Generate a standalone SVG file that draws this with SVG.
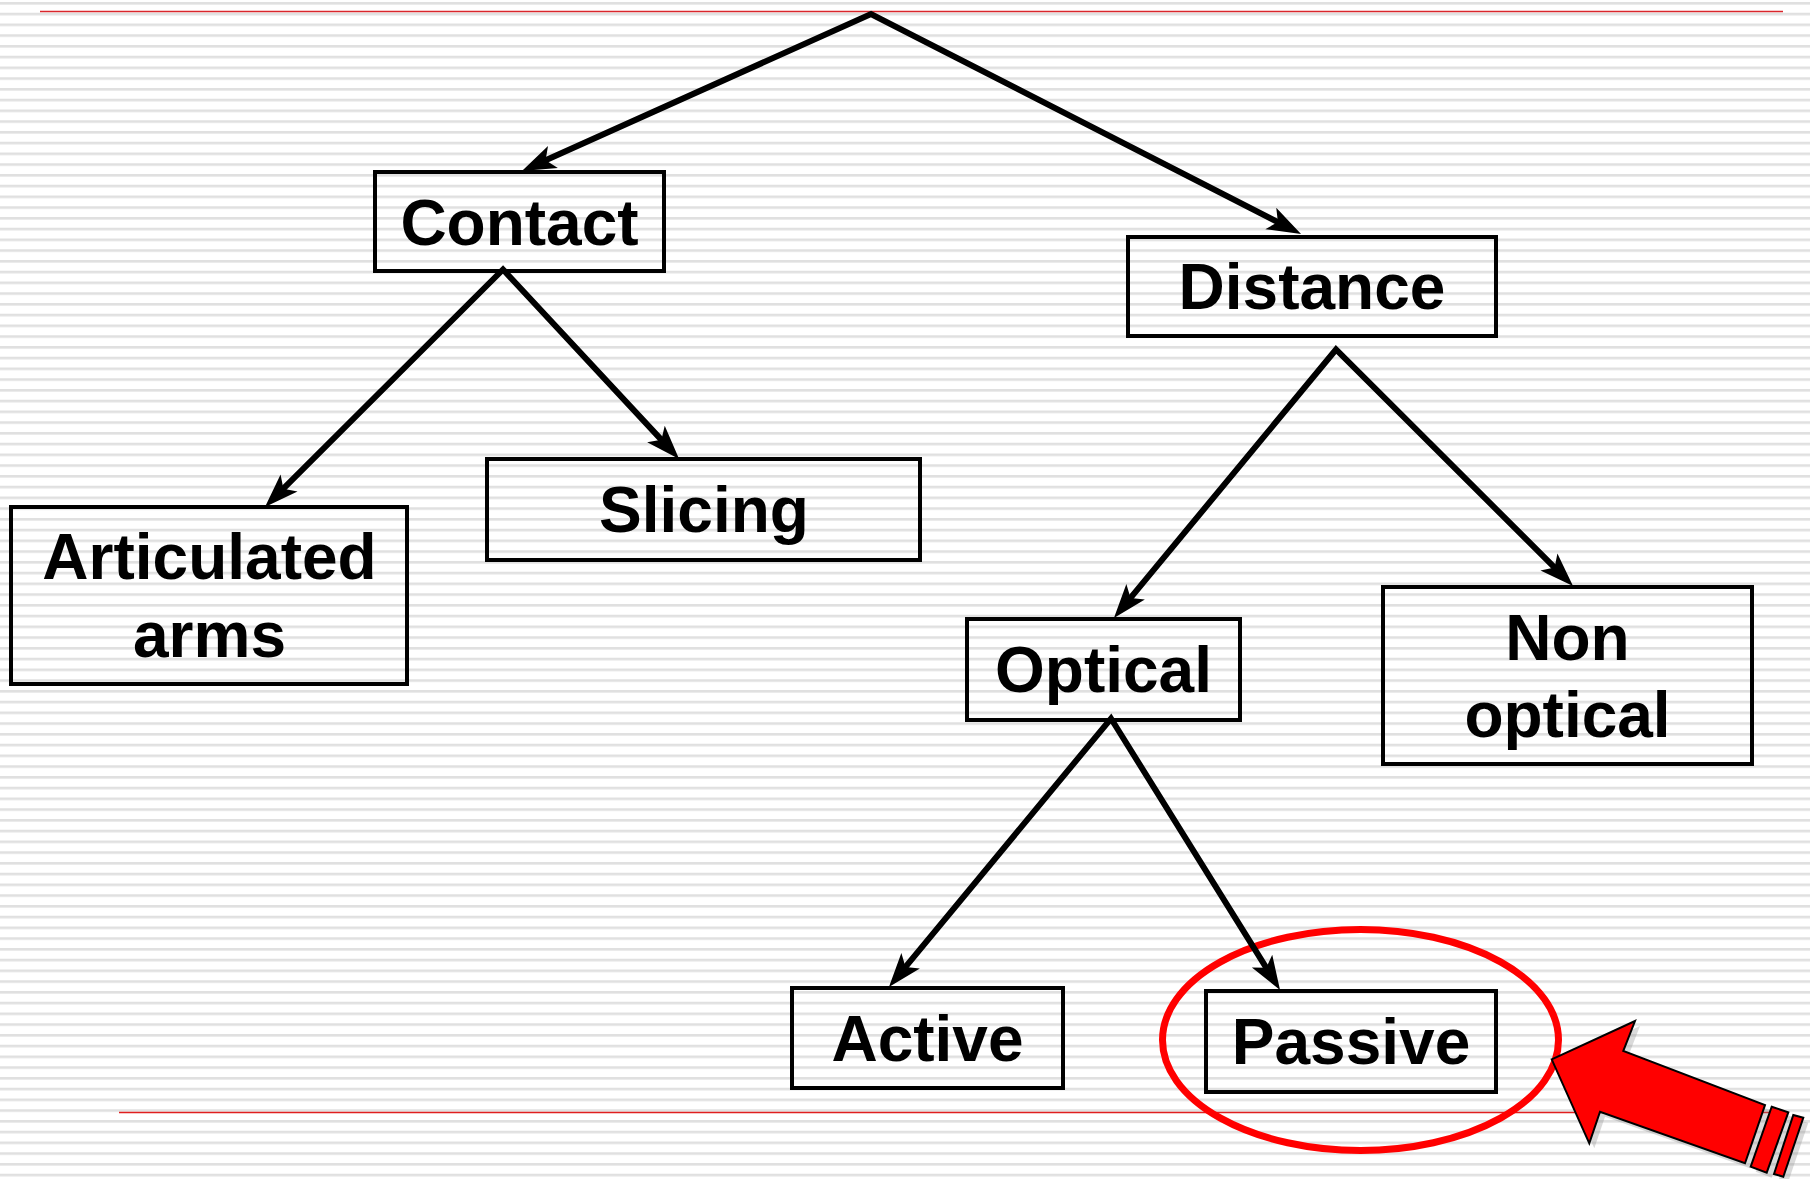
<svg xmlns="http://www.w3.org/2000/svg" width="1810" height="1179" viewBox="0 0 1810 1179">
<defs>
<pattern id="stripes" patternUnits="userSpaceOnUse" x="0" y="2" width="40" height="10.75">
<rect x="0" y="0" width="40" height="2.6" fill="#e0e0e0"/>
</pattern>
<marker id="ah" markerUnits="userSpaceOnUse" viewBox="-20 -14 40 28" refX="0" refY="0" markerWidth="40" markerHeight="28" orient="auto-start-reverse">
<path d="M15,0 L-19,-12 L-11,0 L-19,12 Z" fill="#000"/>
</marker>
<style>
.box{fill:none;stroke:#000;stroke-width:4}
.lbl{font-family:"Liberation Sans",Arial,sans-serif;font-weight:bold;font-size:64px;fill:#000;text-anchor:middle}
.edge{fill:none;stroke:#000;stroke-width:6;stroke-linejoin:miter;stroke-miterlimit:10}
</style>
</defs>
<rect x="0" y="0" width="1810" height="1179" fill="#fff"/>
<rect x="0" y="0" width="1810" height="1179" fill="url(#stripes)"/>
<line x1="40" y1="11.5" x2="1783" y2="11.5" stroke="#d9262b" stroke-width="1.6"/>
<line x1="119" y1="1112.5" x2="1770" y2="1112.5" stroke="#e01f1f" stroke-width="1.3"/>

<g id="highlight">
<ellipse cx="1360.5" cy="1040" rx="198" ry="110.5" fill="none" stroke="#ff0000" stroke-width="7"/>
</g>

<g id="connectors">
<path class="edge" d="M535.6,164.8 L871,14 L1287.7,227.1" marker-start="url(#ah)" marker-end="url(#ah)"/>
<path class="edge" d="M275.6,496.4 L503,269.5 L668.9,447.9" marker-start="url(#ah)" marker-end="url(#ah)"/>
<path class="edge" d="M1123.5,606.4 L1336,349.5 L1562.4,575.3" marker-start="url(#ah)" marker-end="url(#ah)"/>
<path class="edge" d="M898.5,975.4 L1111,718.5 L1272.1,977.2" marker-start="url(#ah)" marker-end="url(#ah)"/>
</g>

<g id="node-contact">
<rect class="box" x="375" y="172" width="289" height="99"/>
<text class="lbl" x="519.5" y="245">Contact</text>
</g>
<g id="node-distance">
<rect class="box" x="1128" y="237" width="368" height="99"/>
<text class="lbl" x="1312" y="308.5">Distance</text>
</g>
<g id="node-articulated">
<rect class="box" x="11" y="507" width="396" height="177"/>
<text class="lbl" x="209.5" y="579">Articulated</text>
<text class="lbl" x="209.5" y="657">arms</text>
</g>
<g id="node-slicing">
<rect class="box" x="487" y="459" width="433" height="101"/>
<text class="lbl" x="704" y="532">Slicing</text>
</g>
<g id="node-optical">
<rect class="box" x="967" y="619" width="273" height="101"/>
<text class="lbl" x="1103.5" y="692">Optical</text>
</g>
<g id="node-nonoptical">
<rect class="box" x="1383" y="587" width="369" height="177"/>
<text class="lbl" x="1567.5" y="660">Non</text>
<text class="lbl" x="1567.5" y="737">optical</text>
</g>
<g id="node-active">
<rect class="box" x="792" y="988" width="271" height="100"/>
<text class="lbl" x="927.5" y="1061">Active</text>
</g>
<g id="node-passive">
<rect class="box" x="1206" y="991" width="290" height="101"/>
<text class="lbl" x="1351" y="1064">Passive</text>
</g>

<g id="pointer">
<g transform="translate(5,5)" fill="#888" opacity="0.3">
<polygon points="1551.7,1059.3 1635,1021 1623.3,1051 1765,1105 1745,1163.3 1600,1111.7 1589.3,1143.3"/>
<polygon points="1771.7,1106.7 1788.3,1112.3 1766.7,1172.7 1750.7,1166.7"/>
<polygon points="1793.3,1115 1803.3,1117.7 1783.3,1176.7 1774,1174"/>
</g>
<g fill="#ff0000" stroke="#000" stroke-width="2" stroke-linejoin="miter">
<polygon points="1551.7,1059.3 1635,1021 1623.3,1051 1765,1105 1745,1163.3 1600,1111.7 1589.3,1143.3"/>
<polygon points="1771.7,1106.7 1788.3,1112.3 1766.7,1172.7 1750.7,1166.7"/>
<polygon points="1793.3,1115 1803.3,1117.7 1783.3,1176.7 1774,1174"/>
</g>
</g>
</svg>
